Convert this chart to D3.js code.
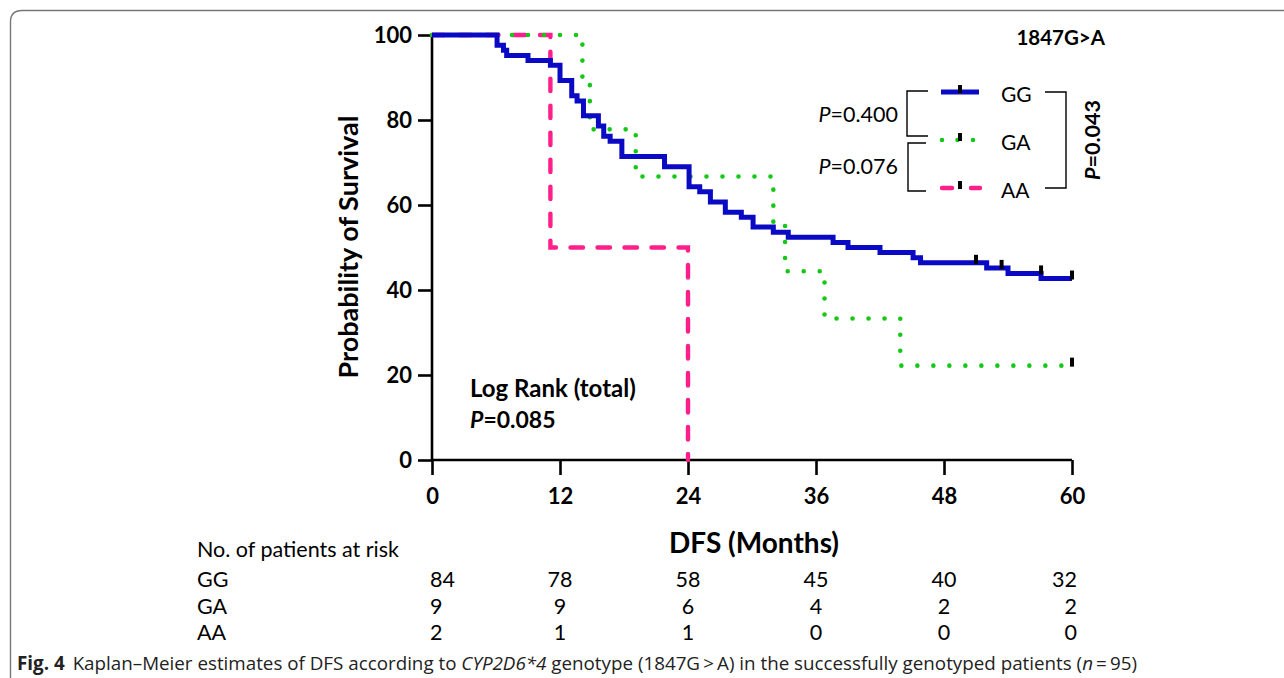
<!DOCTYPE html>
<html>
<head>
<meta charset="utf-8">
<script src="https://cdn.jsdelivr.net/npm/d3@7"></script>
<style>
  body { margin: 0; background: #fff; }
  svg { display: block; }
  .ax path, .ax line { stroke: #000; stroke-width: 2.6px; }
  .ax text { font-family: Lato, sans-serif; font-weight: 700; font-size: 22px; fill: #000; }
</style>
</head>
<body>
<svg id="chart" width="1284" height="678"></svg>
<script>
// tick values
const xTicks = [0, 12, 24, 36, 48, 60];
const yTicks = [0, 20, 40, 60, 80, 100];

// survival steps (months, percent)
const ggTimes = [0, 6.1, 6.7, 7.0, 9.0, 11.1, 12.0, 13.1, 13.6, 14.2, 15.6, 16.1, 16.7, 17.8, 21.8, 24.1, 25.1, 26.1, 27.5, 29.0, 30.1, 32.0, 33.4, 37.6, 39.0, 42.0, 45.1, 45.8, 52.0, 54.0, 57.1, 60];
const ggSurv  = [100, 97.6, 96.4, 95.2, 94.0, 92.9, 89.3, 85.7, 84.5, 81.0, 78.6, 76.2, 75.0, 71.4, 69.0, 64.3, 63.1, 60.7, 58.3, 57.1, 54.8, 53.6, 52.4, 51.2, 50.0, 48.8, 47.6, 46.4, 45.2, 43.9, 42.7, 42.7];
const gaTimes = [0, 14.1, 14.8, 19.1, 32.0, 33.1, 36.8, 43.9, 60];
const gaSurv  = [100, 88.9, 77.8, 66.7, 55.6, 44.4, 33.3, 22.2, 22.2];
const aaTimes = [0, 11.1, 24.0];
const aaSurv  = [100, 50, 0];

// censored observations
const ggCensor = [51.0, 53.4, 57.1, 60];
const gaCensor = [60];

// numbers at risk
const groups = ["GG", "GA", "AA"];
const riskGG = [84, 78, 58, 45, 40, 32];
const riskGA = [9, 9, 6, 4, 2, 2];
const riskAA = [2, 1, 1, 0, 0, 0];

const svg = d3.select("#chart");
const x = d3.scaleLinear().domain([0, 60]).range([432, 1072]);
const y = d3.scaleLinear().domain([0, 100]).range([460, 35]);

// frame
svg.append("path")
    .attr("d", "M10.5,700 L10.5,22 Q10.5,10.5 22,10.5 L1300,10.5")
    .attr("fill", "none").attr("stroke", "#777").attr("stroke-width", 1.4);

function series(times, surv) {
    return times.map((t, i) => [t, surv[i]]);
}
function survAt(times, surv, t) {
    let s = surv[0];
    times.forEach((tt, i) => { if (tt <= t) s = surv[i]; });
    return s;
}

const line = d3.line().x(d => x(d[0])).y(d => y(d[1])).curve(d3.curveStepAfter);

const styles = {
    GG: { stroke: "#0a0ac4", width: 5, dash: null, cap: "butt" },
    GA: { stroke: "#16c816", width: 4.6, dash: "0 16", cap: "round" },
    AA: { stroke: "#ff1f8a", width: 4.4, dash: "12.5 14.5", cap: "round" }
};
const curves = {
    GG: series(ggTimes, ggSurv),
    GA: series(gaTimes, gaSurv),
    AA: series(aaTimes, aaSurv)
};

// axes
const gx = svg.append("g").attr("class", "ax").attr("transform", "translate(0,460)")
    .call(d3.axisBottom(x).tickValues(xTicks).tickSize(15).tickSizeOuter(0).tickPadding(13));
const gy = svg.append("g").attr("class", "ax").attr("transform", "translate(432,0)")
    .call(d3.axisLeft(y).tickValues(yTicks).tickSize(14).tickSizeOuter(0).tickPadding(6));
gx.select(".domain").attr("d", "M432,0H1072");
gy.select(".domain").attr("d", "M0,35V460");
gy.selectAll("text").attr("dy", "0.36em");

// curves (AA under GA under GG)
["AA", "GA", "GG"].forEach(g => {
    const st = styles[g];
    svg.append("path")
        .datum(curves[g])
        .attr("d", line)
        .attr("fill", "none")
        .attr("stroke", st.stroke)
        .attr("stroke-width", st.width)
        .attr("stroke-linecap", st.cap)
        .attr("stroke-dasharray", st.dash);
});

// censor ticks
function censorTicks(times, surv, cens) {
    svg.append("g").selectAll("rect").data(cens).join("rect")
        .attr("x", d => x(d) - 2)
        .attr("y", d => y(survAt(times, surv, d - 0.01)) - 8)
        .attr("width", 4).attr("height", 9)
        .attr("fill", "#000");
}
censorTicks(ggTimes, ggSurv, ggCensor);
censorTicks(gaTimes, gaSurv, gaCensor);

// axis titles
svg.append("text")
    .attr("transform", "translate(358,247) rotate(-90)")
    .attr("text-anchor", "middle")
    .style("font-family", "Lato, sans-serif").style("font-weight", 700).style("font-size", "27px")
    .text("Probability of Survival");
svg.append("text")
    .attr("x", 754).attr("y", 553)
    .attr("text-anchor", "middle")
    .style("font-family", "Lato, sans-serif").style("font-weight", 700).style("font-size", "28px")
    .text("DFS (Months)");

// header and log-rank note
const bold = sel => sel.style("font-family", "Lato, sans-serif").style("font-weight", 700);
bold(svg.append("text").attr("x", 1105).attr("y", 45).attr("text-anchor", "end").style("font-size", "20.5px"))
    .text("1847G>A");
bold(svg.append("text").attr("x", 470).attr("y", 397).style("font-size", "24px"))
    .text("Log Rank (total)");
const lr = bold(svg.append("text").attr("x", 470).attr("y", 428).style("font-size", "23px"));
lr.append("tspan").style("font-style", "italic").text("P");
lr.append("tspan").text("=0.085");

// legend
const legY = { GG: 92, GA: 140, AA: 188 };
groups.forEach(g => {
    const st = styles[g];
    const ly = legY[g];
    svg.append("line")
        .attr("x1", g === "GG" ? 941 : 942).attr("x2", g === "GG" ? 979 : 980)
        .attr("y1", ly).attr("y2", ly)
        .attr("stroke", st.stroke).attr("stroke-width", st.width)
        .attr("stroke-linecap", st.cap)
        .attr("stroke-dasharray", g === "GA" ? "0 15.5" : (g === "AA" ? "10 19" : null));
    svg.append("rect").attr("x", 958).attr("y", ly - 7).attr("width", 4).attr("height", 8).attr("fill", "#000");
    svg.append("text").attr("x", 1001).attr("y", ly + 10)
        .style("font-family", "Lato, sans-serif").style("font-size", "21px")
        .text(g);
});

// comparison brackets
const br = svg.append("g").attr("fill", "none").attr("stroke", "#000").attr("stroke-width", 1.4);
br.append("path").attr("d", "M928,91 H907 V136 H928");
br.append("path").attr("d", "M926,143 H908 V191 H926");
br.append("path").attr("d", "M1045,92 H1066 V188 H1045");

function pText(px, py, val, anchor) {
    const t = svg.append("text").attr("x", px).attr("y", py).attr("text-anchor", anchor)
        .style("font-family", "Lato, sans-serif").style("font-size", "21.5px");
    t.append("tspan").style("font-style", "italic").text("P");
    t.append("tspan").text(val);
    return t;
}
pText(898, 122, "=0.400", "end");
pText(898, 174, "=0.076", "end");
pText(0, 0, "=0.043", "middle")
    .attr("transform", "translate(1100,140) rotate(-90)")
    .style("font-weight", 700);

// numbers at risk
const tbl = svg.append("g").style("font-family", "Lato, sans-serif").style("font-size", "21.5px");
tbl.append("text").attr("x", 197).attr("y", 557).text("No. of patients at risk");
const riskRows = [riskGG, riskGA, riskAA];
groups.forEach((g, r) => {
    const ry = 587 + r * 26.7;
    tbl.append("text").attr("x", 197).attr("y", ry).text(g);
    tbl.append("g").selectAll("text").data(riskRows[r]).join("text")
        .attr("x", (d, i) => i === 0 ? x(xTicks[i]) - 2 : (i === 5 ? x(xTicks[i]) + 5 : x(xTicks[i])))
        .attr("y", ry)
        .attr("text-anchor", (d, i) => i === 0 ? "start" : (i === 5 ? "end" : "middle"))
        .text(d => d);
});

// caption
const cap = svg.append("text").attr("x", 17).attr("y", 670)
    .style("font-family", "'Open Sans', sans-serif").style("font-size", "18.8px").attr("fill", "#222");
cap.append("tspan").style("font-weight", 700).text("Fig. 4");
cap.append("tspan").attr("dx", 8).text("Kaplan–Meier estimates of DFS according to ");
cap.append("tspan").style("font-style", "italic").text("CYP2D6*4");
cap.append("tspan").text(" genotype (1847G\u2009>\u2009A) in the successfully genotyped patients (");
cap.append("tspan").style("font-style", "italic").text("n");
cap.append("tspan").text("\u2009=\u200995)");
</script>
</body>
</html>
